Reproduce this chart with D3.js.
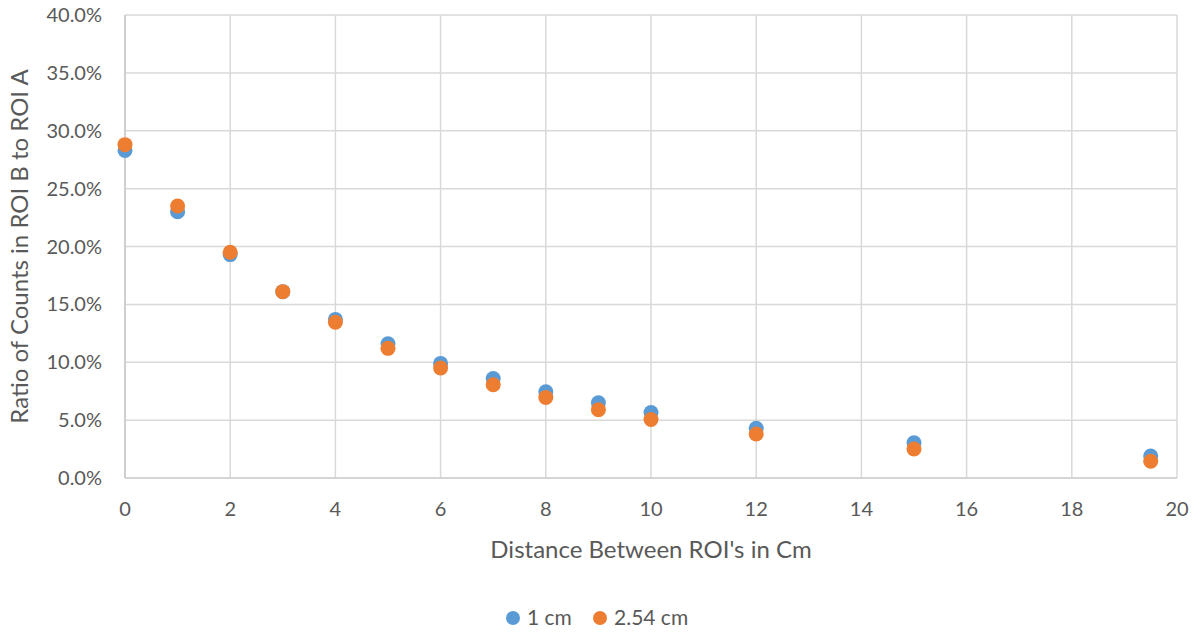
<!DOCTYPE html>
<html lang="en">
<head>
    <meta charset="UTF-8">
    <script src="https://d3js.org/d3.v7.min.js"></script>
    <title>Ratio of Counts</title>
    <style>
        body { margin: 0; background: #fff; }
        svg text { font-family: Lato, "Open Sans", sans-serif; fill: #595959; }
    </style>
</head>
<body>
    <div id="chart"></div>

    <script>
        // distances (cm) and measured ratios (%)
        const distances = [0, 1, 2, 3, 4, 5, 6, 7, 8, 9, 10, 12, 15, 19.5];
        const ratio1cm = [28.3, 23.0, 19.3, 16.1, 13.7, 11.6, 9.9, 8.6, 7.45, 6.5, 5.65, 4.3, 3.05, 1.9];
        const ratio254cm = [28.8, 23.5, 19.5, 16.1, 13.45, 11.2, 9.5, 8.05, 6.95, 5.9, 5.05, 3.8, 2.5, 1.45];
        const xTicks = [0, 2, 4, 6, 8, 10, 12, 14, 16, 18, 20];
        const yTicks = [0, 5, 10, 15, 20, 25, 30, 35, 40];
        const seriesNames = ["1 cm", "2.54 cm"];
        const colors = ["#5B9BD5", "#ED7D31"];

        const width = 1202, height = 634;
        const plotL = 125, plotR = 1177, plotT = 15, plotB = 478;

        const svg = d3.select("#chart").append("svg")
            .attr("width", width)
            .attr("height", height);

        const x = d3.scaleLinear().domain([0, 20]).range([plotL, plotR]);
        const y = d3.scaleLinear().domain([0, 40]).range([plotB, plotT]);

        // gridlines
        svg.append("g")
            .selectAll("line")
            .data(yTicks)
            .join("line")
            .attr("x1", plotL).attr("x2", plotR)
            .attr("y1", d => y(d)).attr("y2", d => y(d))
            .attr("stroke", "#D9D9D9").attr("stroke-width", 1.5);

        svg.append("g")
            .selectAll("line")
            .data(xTicks)
            .join("line")
            .attr("x1", d => x(d)).attr("x2", d => x(d))
            .attr("y1", plotT).attr("y2", plotB)
            .attr("stroke", "#D9D9D9").attr("stroke-width", 1.5);

        // axis lines
        svg.append("line")
            .attr("x1", plotL).attr("x2", plotR)
            .attr("y1", plotB).attr("y2", plotB)
            .attr("stroke", "#D0D0D0").attr("stroke-width", 1.5);
        svg.append("line")
            .attr("x1", plotL).attr("x2", plotL)
            .attr("y1", plotT).attr("y2", plotB)
            .attr("stroke", "#C8C8C8").attr("stroke-width", 1.5);

        // tick labels
        svg.append("g")
            .selectAll("text")
            .data(yTicks)
            .join("text")
            .attr("x", 102)
            .attr("y", d => y(d))
            .attr("dy", "0.35em")
            .attr("text-anchor", "end")
            .style("font-size", "20px")
            .text(d => d.toFixed(1) + "%");

        svg.append("g")
            .selectAll("text")
            .data(xTicks)
            .join("text")
            .attr("x", d => x(d))
            .attr("y", 509)
            .attr("dy", "0.35em")
            .attr("text-anchor", "middle")
            .style("font-size", "20px")
            .text(d => d);

        // axis titles
        svg.append("text")
            .attr("x", (plotL + plotR) / 2)
            .attr("y", 550)
            .attr("dy", "0.35em")
            .attr("text-anchor", "middle")
            .style("font-size", "24px")
            .text("Distance Between ROI's in Cm");

        svg.append("text")
            .attr("transform", `translate(20,${(plotT + plotB) / 2}) rotate(-90)`)
            .attr("dy", "0.35em")
            .attr("text-anchor", "middle")
            .style("font-size", "24px")
            .text("Ratio of Counts in ROI B to ROI A");

        // points
        [ratio1cm, ratio254cm].forEach((vals, i) => {
            svg.append("g")
                .selectAll("circle")
                .data(distances.map((d, j) => ({ x: d, y: vals[j] })))
                .join("circle")
                .attr("cx", d => x(d.x))
                .attr("cy", d => y(d.y))
                .attr("r", 7.5)
                .attr("fill", colors[i]);
        });

        // legend
        const legendX = [513, 600];
        const legend = svg.append("g")
            .selectAll("g")
            .data(seriesNames)
            .join("g")
            .attr("transform", (d, i) => `translate(${legendX[i]},618)`);
        legend.append("circle").attr("r", 7).attr("fill", (d, i) => colors[i]);
        legend.append("text")
            .attr("x", 14)
            .attr("dy", "0.35em")
            .style("font-size", "21px")
            .text(d => d);
    </script>
</body>
</html>
